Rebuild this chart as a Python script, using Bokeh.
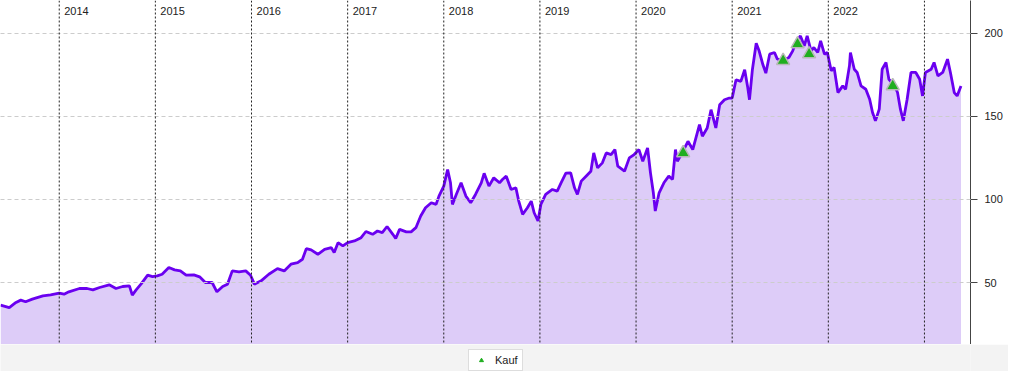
from bokeh.plotting import figure
from bokeh.models import Range1d, FixedTicker, Span
from bokeh.layouts import column
from bokeh.core.properties import value
from bokeh.embed import file_html
from bokeh.resources import INLINE

# ---- data (decimal year, price) ----
dates_2013 = [2013.39, 2013.48, 2013.55, 2013.60, 2013.65, 2013.72, 2013.83, 2013.91]
price_2013 = [36.4, 34.9, 38.0, 39.4, 38.4, 40.0, 42.0, 42.6]
dates_2014 = [2014.00, 2014.05, 2014.10, 2014.21, 2014.29, 2014.35, 2014.42, 2014.52, 2014.59, 2014.66,
              2014.73, 2014.76, 2014.80, 2014.85, 2014.92, 2014.97]
price_2014 = [43.6, 43.0, 44.4, 46.4, 46.4, 45.6, 47.0, 48.6, 46.4, 47.6, 48.0, 42.4, 45.6, 49.0, 54.4, 53.6]
dates_2015 = [2015.02, 2015.07, 2015.14, 2015.20, 2015.26, 2015.32, 2015.40, 2015.46, 2015.52, 2015.59,
              2015.64, 2015.70, 2015.75, 2015.80, 2015.87, 2015.94, 2015.99]
price_2015 = [54.0, 55.0, 59.0, 57.6, 57.0, 54.4, 54.6, 53.4, 50.0, 50.0, 44.4, 47.6, 49.0, 57.0, 56.4, 57.0, 54.4]
dates_2016 = [2016.03, 2016.10, 2016.18, 2016.27, 2016.34, 2016.41, 2016.48, 2016.53, 2016.57, 2016.62,
              2016.69, 2016.76, 2016.83, 2016.86, 2016.90, 2016.95]
price_2016 = [49.0, 51.0, 55.0, 58.4, 57.0, 61.0, 62.0, 64.0, 70.4, 69.6, 67.0, 70.0, 71.0, 68.0, 74.0, 72.0]
dates_2017 = [2017.00, 2017.07, 2017.14, 2017.19, 2017.26, 2017.31, 2017.36, 2017.41, 2017.47, 2017.50,
              2017.54, 2017.61, 2017.66, 2017.71, 2017.76, 2017.81, 2017.87, 2017.92, 2017.95]
price_2017 = [74.0, 75.0, 77.0, 80.7, 79.0, 81.0, 80.0, 83.7, 79.0, 76.5, 82.0, 80.5, 80.5, 83.0, 90.0, 95.0,
              98.0, 97.0, 102.0]
dates_2018 = [2018.00, 2018.04, 2018.07, 2018.09, 2018.13, 2018.18, 2018.23, 2018.28, 2018.33, 2018.39,
              2018.42, 2018.47, 2018.52, 2018.58, 2018.61, 2018.65, 2018.70, 2018.75, 2018.78, 2018.82,
              2018.87, 2018.91, 2018.94, 2018.98]
price_2018 = [108.0, 118.0, 110.0, 97.0, 103.0, 110.0, 102.0, 98.0, 103.0, 110.0, 115.7, 108.0, 113.0, 110.0,
              112.0, 114.0, 106.0, 107.0, 99.0, 91.0, 95.0, 99.0, 92.0, 87.0]
dates_2019 = [2019.01, 2019.06, 2019.13, 2019.18, 2019.22, 2019.27, 2019.32, 2019.36, 2019.39, 2019.43,
              2019.48, 2019.53, 2019.56, 2019.60, 2019.65, 2019.69, 2019.74, 2019.78, 2019.81, 2019.88,
              2019.93, 2019.98]
price_2019 = [97.0, 103.0, 106.0, 105.0, 110.0, 115.8, 116.0, 107.0, 103.0, 111.0, 114.0, 117.0, 128.0, 119.0,
              122.0, 128.0, 127.0, 130.0, 120.0, 117.0, 125.0, 127.0]
dates_2020 = [2020.03, 2020.07, 2020.12, 2020.15, 2020.18, 2020.20, 2020.24, 2020.29, 2020.34, 2020.38,
              2020.41, 2020.43, 2020.48, 2020.54, 2020.59, 2020.66, 2020.69, 2020.74, 2020.78, 2020.83,
              2020.87, 2020.92, 2020.97]
price_2020 = [130.0, 123.0, 131.0, 116.0, 104.0, 93.0, 104.0, 110.0, 114.0, 112.0, 130.0, 123.0, 128.0, 135.0,
              130.0, 145.0, 138.0, 143.0, 154.0, 143.0, 157.0, 160.0, 161.0]
dates_2021 = [2021.00, 2021.04, 2021.09, 2021.13, 2021.16, 2021.18, 2021.21, 2021.25, 2021.28, 2021.32,
              2021.35, 2021.39, 2021.44, 2021.47, 2021.54, 2021.59, 2021.63, 2021.66, 2021.71, 2021.75,
              2021.78, 2021.82, 2021.85, 2021.89, 2021.92, 2021.96, 2021.99]
price_2021 = [161.0, 172.0, 171.0, 178.0, 168.0, 160.0, 178.0, 194.0, 189.4, 181.0, 176.0, 187.4, 188.4, 184.4,
              184.0, 185.4, 189.4, 194.4, 198.4, 192.4, 198.4, 189.4, 191.4, 188.4, 195.4, 187.4, 188.4]
dates_2022 = [2022.03, 2022.06, 2022.10, 2022.15, 2022.18, 2022.22, 2022.23, 2022.27, 2022.30, 2022.34,
              2022.39, 2022.43, 2022.46, 2022.49, 2022.53, 2022.56, 2022.60, 2022.63, 2022.69, 2022.72,
              2022.75, 2022.78, 2022.82, 2022.86, 2022.91, 2022.95, 2022.98]
price_2022 = [177.4, 179.4, 164.3, 168.3, 166.3, 180.4, 188.4, 178.3, 176.4, 168.3, 166.3, 160.3, 152.3, 147.3,
              154.3, 178.3, 182.4, 172.3, 168.3, 164.3, 154.3, 147.3, 160.3, 176.4, 176.4, 172.3, 162.3]
dates_2023 = [2023.01, 2023.07, 2023.10, 2023.14, 2023.19, 2023.24, 2023.27, 2023.31, 2023.34, 2023.38]
price_2023 = [176.4, 178.3, 182.4, 174.3, 176.4, 184.4, 176.4, 164.3, 162.3, 168.3]

buy_dates = [2020.49, 2021.53, 2021.68, 2021.80, 2022.67]
buy_prices = [128.0, 183.5, 193.5, 187.5, 168.3]

year_lines = [2014, 2015, 2016, 2017, 2018, 2019, 2020, 2021, 2022, 2023]
year_labels = ["2014", "2015", "2016", "2017", "2018", "2019", "2020", "2021", "2022"]
y_ticks = [50, 100, 150, 200]

dates = (dates_2013 + dates_2014 + dates_2015 + dates_2016 + dates_2017 + dates_2018 +
         dates_2019 + dates_2020 + dates_2021 + dates_2022 + dates_2023)
prices = (price_2013 + price_2014 + price_2015 + price_2016 + price_2017 + price_2018 +
          price_2019 + price_2020 + price_2021 + price_2022 + price_2023)

FONT = "Liberation Sans"
X_MIN, X_MAX = 2013.389, 2023.479
Y_MIN, Y_MAX = 12.7, 219.7

p = figure(width=1008, height=344, output_backend="svg", toolbar_location=None,
           x_range=Range1d(X_MIN, X_MAX), y_range=Range1d(Y_MIN, Y_MAX),
           x_axis_location=None, y_axis_location="right",
           min_border_left=0, min_border_top=0, min_border_bottom=0, min_border_right=38)
p.outline_line_color = None
p.background_fill_color = "white"
p.border_fill_color = "white"

p.varea(x=dates, y1=[Y_MIN - 10] * len(dates), y2=prices, fill_color="#ddccf8", fill_alpha=1.0)
p.line(dates, prices, line_color="#6a00f0", line_width=2.8)

p.xgrid.visible = False
p.ygrid.ticker = FixedTicker(ticks=y_ticks)
p.ygrid.grid_line_color = "#cccccc"
p.ygrid.grid_line_dash = "4 3"
p.ygrid.level = "annotation"

for yr in year_lines:
    p.add_layout(Span(location=yr, dimension="height", line_color="#222222",
                      line_dash="2 2", line_width=1))

p.text(x=year_lines[:len(year_labels)], y=[Y_MAX - 6.5] * len(year_labels), text=year_labels,
       x_offset=5, text_baseline="middle", text_align="left",
       text_font=value(FONT), text_font_size="11px", text_color="#222222")

p.scatter(buy_dates, buy_prices, marker="triangle", size=13, fill_color="#1fae1f",
          line_color="#b8b8b8", line_width=1.5)

ax = p.yaxis[0]
ax.ticker = FixedTicker(ticks=y_ticks)
ax.axis_line_color = "#444444"
ax.major_tick_line_color = "#444444"
ax.major_tick_out = 7
ax.major_tick_in = 0
ax.minor_tick_line_color = None
ax.major_label_standoff = 7
ax.major_label_text_font = FONT
ax.major_label_text_font_size = "11px"
ax.major_label_text_color = "#222222"

# legend strip below the chart
p2 = figure(width=1008, height=27, output_backend="svg", toolbar_location=None,
            x_range=Range1d(0, 1), y_range=Range1d(0, 1),
            x_axis_location=None, y_axis_location=None,
            min_border_left=0, min_border_top=0, min_border_bottom=0, min_border_right=0)
p2.outline_line_color = None
p2.background_fill_color = "#f3f3f3"
p2.border_fill_color = "#f3f3f3"
p2.xgrid.visible = False
p2.ygrid.visible = False
p2.scatter(buy_dates, buy_prices, marker="triangle", size=9, fill_color="#1fae1f",
           line_color="#1fae1f", legend_label="Kauf")
lg = p2.legend[0]
lg.location = (468, 0)
lg.margin = 0
lg.padding = 4
lg.spacing = 0
lg.glyph_width = 16
lg.glyph_height = 10
lg.label_standoff = 6
lg.label_text_font = FONT
lg.label_text_font_size = "11px"
lg.label_text_color = "#222222"
lg.border_line_color = "#bbbbbb"
lg.background_fill_color = "white"
lg.background_fill_alpha = 1.0

layout = column(p, p2, spacing=0)
open("out.html", "w").write(file_html(layout, INLINE))
